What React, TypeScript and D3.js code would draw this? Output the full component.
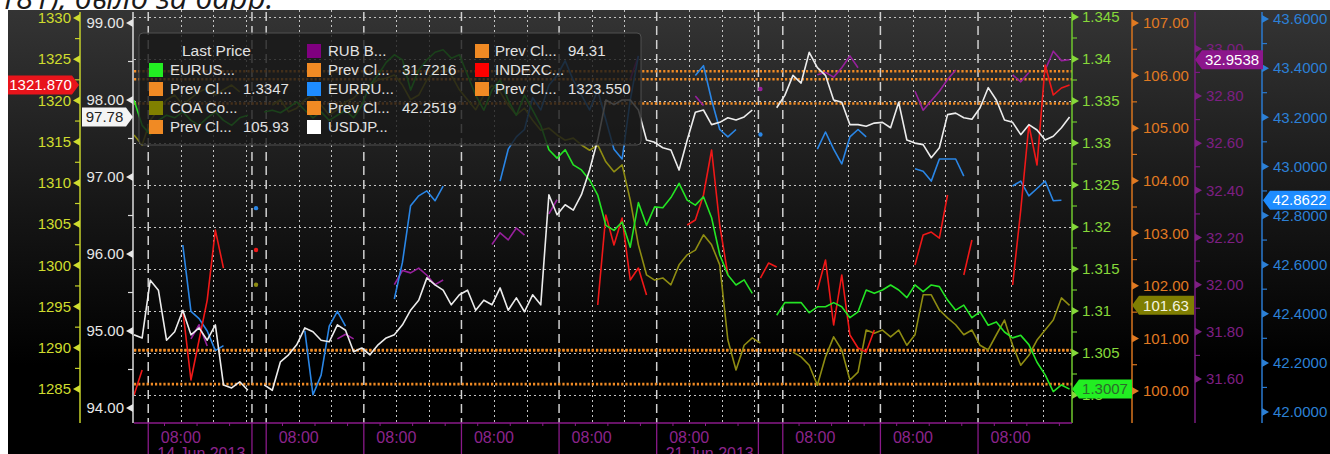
import React from 'react';
import * as d3 from 'd3';

// ---------------- data ----------------
// time axis: compressed trading hours (weekends removed) from the left edge of the plot
const sampleStepHours = 2;
const timeDomainHours = [0, 230.6];
const dayStartHours = [3.5, 32.5, 56.5, 80.5, 104.5, 128.5, 159.5, 183.5, 207.5];
const sessionCloseHours = [29.0, 153.5];
const fridayDayIdx = [0, 5];
const hourLabel = '08:00';
const dateLabels = [
  { day: 0, text: '14 Jun 2013' },
  { day: 5, text: '21 Jun 2013' },
];

const eurusd = [1.3351, 1.3321, 1.3310, 1.3327, 1.3333, 1.3330, 1.3337, 1.3327, 1.3321, 1.3330,
  1.3337, 1.3327, 1.3321, 1.3330, 1.3333, null, 1.3337, 1.3339, 1.3336, 1.3342,
  1.3349, 1.3339, 1.3330, 1.3337, 1.3327, 1.3333, 1.3339, 1.3330, 1.3345, 1.3369,
  1.3381, 1.3396, 1.3405, 1.3399, 1.3363, 1.3387, 1.3399, 1.3408, 1.3411, 1.3401,
  1.3405, 1.3381, 1.3357, 1.3339, 1.3363, 1.3375, 1.3351, 1.3333, 1.3357, 1.3339,
  1.3321, 1.3292, 1.3282, 1.3292, 1.3274, 1.3268, 1.3256, 1.3238, 1.3202, 1.3196,
  1.3206, 1.3176, 1.3229, 1.3202, 1.3224, 1.3223, 1.3235, 1.3252, 1.3232, 1.3226,
  1.3236, 1.3211, 1.3167, 1.3143, 1.3131, 1.3137, 1.3121, null, null, 1.3095,
  1.3110, 1.3110, 1.3110, 1.3098, 1.3105, 1.3105, 1.3110, 1.3105, 1.3092, 1.3099,
  1.3125, 1.3121, 1.3125, 1.3131, 1.3125, 1.3116, 1.3131, 1.3123, 1.3131, 1.3129,
  1.3113, 1.3101, 1.3107, 1.3092, 1.3099, 1.3083, 1.3087, 1.3075, 1.3068, 1.3071,
  1.3060, 1.3039, 1.3024, 1.3004, 1.3012, 1.3007];

const coa = [104.87, 104.68, 105.15, 105.35, 105.54, 105.63, 105.44, 105.57, 105.69, 105.76,
  105.63, 105.73, 105.82, 105.69, null, 102.02, null, 105.44, 105.54, 105.31,
  105.38, 105.54, 105.63, 105.44, 105.25, 105.35, 105.50, 105.57, 105.73, 105.82,
  105.92, 105.95, 106.01, 105.82, 105.54, 105.63, 105.92, 106.07, 106.20, 106.01,
  105.73, 105.54, 105.35, 105.63, 105.82, 105.69, 105.44, 105.25, 105.38, 105.15,
  104.96, 105.00, 104.87, 104.77, 104.81, 104.68, 104.58, 104.68, 104.36, 104.17,
  104.30, 103.63, 102.78, 102.21, 102.11, 102.15, 102.02, 102.40, 102.59, 102.68,
  102.97, 102.78, 102.40, 100.97, 100.40, 100.87, 101.01, 100.91, null, null,
  null, 100.74, 100.65, 100.49, 100.11, 100.65, 101.03, 100.78, 100.21, 100.36,
  101.16, 101.10, 101.16, 101.03, 101.16, 100.87, 101.07, 101.83, 101.83, 101.54,
  101.39, 101.26, 101.07, 101.16, 100.87, 100.78, 101.07, 101.35, 100.87, 100.49,
  100.68, 100.97, 101.16, 101.35, 101.77, 101.63];

const rub = [null, null, null, null, null, null, null, 31.77, 31.83, 31.74,
  null, null, null, null, null, null, null, null, null, null,
  null, null, null, null, null, 31.77, 31.79, 31.77, null, null,
  null, null, 32.00, 32.06, 32.05, 32.07, 32.04, 32.00, 32.02, null,
  null, null, null, null, 32.17, 32.22, 32.19, 32.24, 32.21, null,
  null, 32.30, 32.36, null, null, null, null, null, null, null,
  null, 32.87, 32.97, null, null, null, null, null, null, 32.80,
  32.76, null, null, null, null, null, null, 32.83, null, null,
  null, null, null, null, 32.89, 32.90, 32.88, 32.92, 32.97, 32.92,
  null, null, null, null, null, null, 32.82, 32.74, 32.78, 32.82,
  32.87, 32.91, null, null, null, null, null, null, 32.89, 32.86,
  32.90, null, 32.91, 32.99, 32.95, 32.9538];

const eurrub = [null, null, null, null, null, null, 42.68, 42.41, 42.38, 42.33,
  42.25, 42.27, null, null, null, 42.83, null, null, null, null,
  null, 42.33, 42.07, 42.15, 42.35, 42.41, 42.35, null, null, null,
  null, null, 42.46, 42.61, 42.84, 42.88, 42.90, 42.86, 42.92, null,
  null, null, null, null, null, 42.94, 43.07, 43.12, 43.15, 43.28,
  43.23, 43.33, 43.37, 43.43, 43.35, 43.29, 43.23, 43.31, 43.19, 43.07,
  43.03, 43.27, 43.45, null, null, null, null, null, null, 43.37,
  43.41, 43.27, 43.15, 43.12, 43.15, null, null, 43.13, null, null,
  null, null, null, null, 43.07, 43.14, 43.07, 43.01, 43.12, 43.15,
  43.12, null, null, null, null, null, 42.99, 42.98, 42.94, 43.03,
  43.03, 43.03, 42.96, null, null, null, null, null, 42.92, 42.94,
  42.88, 42.91, 42.94, 42.86, 42.8622, null];

const usdjpy = [94.95, 94.91, 95.66, 95.53, 94.88, 94.99, 95.27, 94.95, 95.04, 94.88,
  95.08, 94.30, 94.26, 94.34, 94.23, null, 94.30, 94.23, 94.60, 94.69,
  94.82, 95.04, 94.99, 94.88, 94.86, 95.08, 95.01, 94.73, 94.78, 94.69,
  94.82, 94.91, 94.95, 95.08, 95.27, 95.40, 95.69, 95.60, 95.53, 95.34,
  95.47, 95.53, 95.27, 95.40, 95.34, 95.56, 95.27, 95.43, 95.25, 95.47,
  95.34, 96.77, 96.51, 96.64, 96.57, 96.77, 97.09, 97.48, 98.00, 97.94,
  98.00, 98.00, 97.87, 97.48, 97.45, 97.38, 97.35, 97.09, 97.48, 97.84,
  97.87, 97.68, 97.71, 97.77, 97.74, 97.78, 97.87, null, null, 97.90,
  98.06, 98.32, 98.22, 98.62, 98.42, 98.32, 98.00, 97.97, 97.68, 97.68,
  97.66, 97.70, 97.71, 97.64, 97.97, 97.48, 97.44, 97.42, 97.25, 97.38,
  97.81, 97.83, 97.77, 97.75, 97.90, 98.16, 98.00, 97.74, 97.71, 97.55,
  97.68, 97.61, 97.48, 97.53, 97.64, 97.78];

const indexc = [1284.27, 1287.30, null, null, null, null, 1294.58, 1286.09, 1290.94, 1295.79,
  1304.28, 1299.67, null, null, null, 1301.86, null, null, null, null,
  null, null, null, null, null, null, null, null, null, null,
  null, null, null, null, null, null, null, null, null, null,
  null, null, null, null, null, null, null, null, null, null,
  null, null, null, null, null, null, null, 1295.19, 1306.10, 1302.46,
  1305.74, 1298.22, 1299.67, 1296.40, null, null, null, null, 1304.89, 1305.50,
  1308.53, 1313.99, 1304.89, 1298.83, null, null, null, 1298.46, 1300.28, 1299.80,
  null, null, null, null, 1297.01, 1300.65, 1292.76, 1298.83, 1291.55, 1289.97,
  1289.49, 1292.15, null, null, null, null, 1300.04, 1303.68, 1304.04, 1303.31,
  1308.53, null, 1298.83, 1303.07, null, null, null, null, 1297.61, 1306.71,
  1317.02, 1312.17, 1324.30, 1320.66, 1321.51, 1321.87];

const seriesNames = ['EURUS...', 'COA Co...', 'RUB B...', 'EURRU...', 'USDJP...', 'INDEXC...'];
const prevCloseValues = [1.3347, 105.93, 31.7216, 42.2519, 94.31, 1323.55];
const prevCloseLabels = ['1.3347', '105.93', '31.7216', '42.2519', '94.31', '1323.550'];
const legendHeader = 'Last Price';
const prevCloseName = 'Prev Cl...';

const indexTicks = [1285, 1290, 1295, 1300, 1305, 1310, 1315, 1320, 1325, 1330];
const jpyTicks = [94, 95, 96, 97, 98, 99];
const eurusdTicks = [1.3, 1.305, 1.31, 1.315, 1.32, 1.325, 1.33, 1.335, 1.34, 1.345];
const coaTicks = [100, 101, 102, 103, 104, 105, 106, 107];
const rubTicks = [31.6, 31.8, 32.0, 32.2, 32.4, 32.6, 32.8, 33.0];
const eurrubTicks = [42.0, 42.2, 42.4, 42.6, 42.8, 43.0, 43.2, 43.4, 43.6];

const topText = '181), было за барр.';

// ---------------- layout ----------------
const W = 1330, H = 454;
const frameX = 8, frameY = 10;
const plotLeft = 134, plotRight = 1072, plotTop = 10, plotBottom = 423;

const yIdx = d3.scaleLinear().domain([1285, 1330]).range([389, 18]);
const yJpy = d3.scaleLinear().domain([94, 99]).range([408, 23]);
const yEur = d3.scaleLinear().domain([1.3, 1.345]).range([395, 17]);
const yCoa = d3.scaleLinear().domain([100, 107]).range([391, 23]);
const yRub = d3.scaleLinear().domain([31.6, 32.8]).range([379, 96]);
const yEurRub = d3.scaleLinear().domain([42, 43.6]).range([412, 19]);

const FONT = "'Liberation Sans', Arial, sans-serif";

const trimFmt = (v: number) => String(+v.toFixed(3));

type Axis = {
  ticks: number[]; scale: any; x: number; side: 'left' | 'right';
  color: string; lineColor: string; fmt: (v: number) => string; textX: number;
};

const axes: Axis[] = [
  { ticks: indexTicks, scale: yIdx, x: 80, side: 'left', color: '#cfdc2e', lineColor: '#c6d22a', fmt: d3.format('d'), textX: 71 },
  { ticks: jpyTicks, scale: yJpy, x: 133, side: 'left', color: '#e6e6e6', lineColor: '#dcdcdc', fmt: d3.format('.2f'), textX: 124 },
  { ticks: eurusdTicks, scale: yEur, x: 1072, side: 'right', color: '#86d83a', lineColor: '#6fc82e', fmt: trimFmt, textX: 1082 },
  { ticks: coaTicks, scale: yCoa, x: 1132, side: 'right', color: '#e07a22', lineColor: '#d8741e', fmt: d3.format('.2f'), textX: 1143 },
  { ticks: rubTicks, scale: yRub, x: 1195, side: 'right', color: '#7d1f82', lineColor: '#7a1a80', fmt: d3.format('.2f'), textX: 1206 },
  { ticks: eurrubTicks, scale: yEurRub, x: 1262, side: 'right', color: '#2c80d6', lineColor: '#2a7ad0', fmt: d3.format('.4f'), textX: 1273 },
];

type Flag = { side: 'left' | 'right'; a: number; b: number; fill: string; text: string };
const seriesStyle = [
  { values: eurusd, scale: yEur, color: '#24e424', fmt: d3.format('.4f'), flag: { side: 'left', a: 1072, b: 1132, fill: '#22ee22', text: '#2b6a2b' } as Flag },
  { values: coa, scale: yCoa, color: '#8e8c12', fmt: d3.format('.2f'), flag: { side: 'left', a: 1132, b: 1194, fill: '#7f7e02', text: '#f4f4e0' } as Flag },
  { values: rub, scale: yRub, color: '#97209c', fmt: d3.format('.4f'), flag: { side: 'left', a: 1195, b: 1263, fill: '#8c168c', text: '#ffffff' } as Flag },
  { values: eurrub, scale: yEurRub, color: '#2a86e6', fmt: d3.format('.4f'), flag: { side: 'left', a: 1263, b: 1330, fill: '#1e8cff', text: '#ffffff' } as Flag },
  { values: usdjpy, scale: yJpy, color: '#ececec', fmt: d3.format('.2f'), flag: { side: 'right', a: 82, b: 133, fill: '#f4f4f4', text: '#222222' } as Flag },
  { values: indexc, scale: yIdx, color: '#f01818', fmt: d3.format('.3f'), flag: { side: 'right', a: 8, b: 79, fill: '#e8141b', text: '#ffffff' } as Flag },
];
const drawOrder = [1, 2, 3, 5, 0, 4];
const legendSwatch = ['#22ee22', '#808000', '#800080', '#1e8cff', '#ffffff', '#ff0000'];
const prevColor = '#f08a24';

const legendBox = { x: 139, y: 33, w: 502, h: 112 };
const legendColSwatchX = [149, 307, 475];
const legendColTextX = [170, 328, 495];
const legendColValueX = [243, 402, 568];
const legendRowY = [51, 70, 89, 108, 127];

function flagPath(f: Flag, yc: number, h = 19, tip = 7) {
  const y0 = yc - h / 2, y1 = yc + h / 2;
  if (f.side === 'left') {
    return `M${f.a},${yc}L${f.a + tip},${y0}L${f.b},${y0}L${f.b},${y1}L${f.a + tip},${y1}Z`;
  }
  return `M${f.a},${y0}L${f.b - tip},${y0}L${f.b},${yc}L${f.b - tip},${y1}L${f.a},${y1}Z`;
}

export default function App() {
  const x = d3.scaleLinear().domain(timeDomainHours).range([plotLeft, plotRight]);
  const tx = (i: number) => x(i * sampleStepHours);

  const longDash: number[] = [...dayStartHours, ...sessionCloseHours];
  const dotted: number[] = [];
  dayStartHours.forEach((d, k) => {
    dotted.push(d + 8, d + 16);
    if (fridayDayIdx.includes(k)) dotted.push(d + 24);
  });
  const minorTimeTicks: number[] = [];
  dayStartHours.forEach((d) => {
    for (let h = 4; h < 24; h += 4) if (h % 8 !== 0) minorTimeTicks.push(d + h);
  });

  type Cell = { kind: 'header' } | { kind: 'series'; s: number } | { kind: 'prev'; s: number };
  const cells: Cell[] = [{ kind: 'header' }];
  seriesNames.forEach((_, s) => { cells.push({ kind: 'series', s }); cells.push({ kind: 'prev', s }); });

  return (
    <div style={{ position: 'fixed', left: 0, top: 0, width: W, height: H, background: '#fff', overflow: 'hidden' }}>
      <svg width={W} height={H} style={{ display: 'block' }} fontFamily={FONT}>
        <defs>
          <linearGradient id="bg" x1="0" y1="0" x2="0" y2="1">
            <stop offset="0" stopColor="#343434" />
            <stop offset="0.45" stopColor="#161616" />
            <stop offset="0.8" stopColor="#000000" />
            <stop offset="1" stopColor="#000000" />
          </linearGradient>
          <clipPath id="plotClip">
            <rect x={plotLeft} y={plotTop} width={plotRight - plotLeft} height={plotBottom - plotTop} />
          </clipPath>
        </defs>

        <text x={-1} y={9} fontSize={31} fontStyle="italic" fontFamily="'Open Sans', sans-serif" fill="#1a1a1a">{topText}</text>

        <rect x={frameX} y={frameY} width={W - frameX} height={H - frameY} fill="url(#bg)" />
        <rect x={frameX} y={plotBottom} width={W - frameX} height={H - plotBottom} fill="#000" />

        <g stroke="#c4c4c4" strokeWidth={1} strokeDasharray="2,3">
          {eurusdTicks.map((t, i) => (
            <line key={i} x1={plotLeft} x2={plotRight} y1={Math.round(yEur(t)) + 0.5} y2={Math.round(yEur(t)) + 0.5} />
          ))}
        </g>
        <g stroke="#c4c4c4" strokeWidth={1} strokeDasharray="2,3">
          {dotted.map((h, i) => (
            <line key={i} x1={Math.round(x(h)) + 0.5} x2={Math.round(x(h)) + 0.5} y1={plotTop} y2={plotBottom} />
          ))}
        </g>
        <g stroke="#d0d0d0" strokeWidth={1.5} strokeDasharray="9,5">
          {longDash.map((h, i) => (
            <line key={i} x1={x(h)} x2={x(h)} y1={plotTop + 2} y2={plotBottom} />
          ))}
        </g>

        <g clipPath="url(#plotClip)" stroke={prevColor} strokeWidth={2.6} strokeDasharray="2.2,2">
          {seriesStyle.map((s, i) => (
            <line key={i} x1={plotLeft} x2={plotRight} y1={s.scale(prevCloseValues[i])} y2={s.scale(prevCloseValues[i])} />
          ))}
        </g>

        <g clipPath="url(#plotClip)">
          {drawOrder.map((si) => {
            const s = seriesStyle[si];
            const line = d3.line<number | null>()
              .defined((d) => d != null)
              .x((_, i) => tx(i))
              .y((d) => s.scale(d as number));
            const dots = s.values
              .map((v, i) => ({ v, i }))
              .filter(({ v, i }) => v != null && (i === 0 || s.values[i - 1] == null) && (i === s.values.length - 1 || s.values[i + 1] == null));
            return (
              <g key={si}>
                <path d={line(s.values as any) || ''} fill="none" stroke={s.color} strokeWidth={1.6} strokeLinejoin="round" />
                {dots.map(({ v, i }) => (
                  <circle key={i} cx={tx(i)} cy={s.scale(v as number)} r={2.2} fill={s.color} />
                ))}
              </g>
            );
          })}
        </g>

        <rect x={legendBox.x} y={legendBox.y} width={legendBox.w} height={legendBox.h} rx={4}
          fill="rgba(24,24,24,0.8)" stroke="#505050" strokeWidth={1} />
        {cells.map((c, k) => {
          const col = Math.floor(k / 5), row = k % 5;
          const y = legendRowY[row];
          if (c.kind === 'header') {
            return <text key={k} x={182} y={y} dy="0.35em" fontSize={15.5} fill="#e2e2e2">{legendHeader}</text>;
          }
          const color = c.kind === 'series' ? legendSwatch[c.s] : prevColor;
          return (
            <g key={k}>
              <rect x={legendColSwatchX[col]} y={y - 7} width={14} height={14} fill={color} />
              <text x={legendColTextX[col]} y={y} dy="0.35em" fontSize={15} fill="#e2e2e2">
                {c.kind === 'series' ? seriesNames[c.s] : prevCloseName}
              </text>
              {c.kind === 'prev' && (
                <text x={legendColValueX[col]} y={y} dy="0.35em" fontSize={15} fill="#e2e2e2">{prevCloseLabels[c.s]}</text>
              )}
            </g>
          );
        })}

        {axes.map((a, ai) => {
          const minors = a.ticks.slice(0, -1).map((t, i) => (t + a.ticks[i + 1]) / 2);
          const dir = a.side === 'left' ? -1 : 1;
          return (
            <g key={ai}>
              <line x1={a.x} x2={a.x} y1={plotTop + 2} y2={plotBottom} stroke={a.lineColor} strokeWidth={1.5} />
              {minors.map((t, i) => (
                <line key={i} x1={a.x} x2={a.x + dir * 5} y1={a.scale(t)} y2={a.scale(t)} stroke={a.lineColor} strokeWidth={1.2} />
              ))}
              {a.ticks.map((t, i) => {
                const y = a.scale(t);
                return (
                  <g key={i}>
                    <path d={`M${a.x},${y - 4}L${a.x},${y + 4}L${a.x + dir * 7},${y}Z`} fill={a.color} />
                    <text x={a.textX} y={y} dy="0.35em" fontSize={15} fill={a.color}
                      textAnchor={a.side === 'left' ? 'end' : 'start'}>{a.fmt(t)}</text>
                  </g>
                );
              })}
            </g>
          );
        })}

        <line x1={plotLeft} x2={plotRight} y1={plotBottom} y2={plotBottom} stroke="#8a1a8a" strokeWidth={1.5} />
        <g stroke="#8a1a8a" strokeWidth={1}>
          {minorTimeTicks.map((h, i) => (
            <line key={i} x1={x(h)} x2={x(h)} y1={plotBottom} y2={plotBottom + 3} />
          ))}
          {[...dayStartHours, ...sessionCloseHours].map((h, i) => (
            <line key={'d' + i} x1={x(h)} x2={x(h)} y1={plotBottom} y2={H} strokeWidth={1.3} />
          ))}
        </g>
        {dayStartHours.map((d, i) => (
          <text key={i} x={x(d + 8)} y={437} dy="0.35em" fontSize={16} fill="#8c248c" textAnchor="middle">{hourLabel}</text>
        ))}
        {dateLabels.map((l, i) => (
          <text key={i} x={x(dayStartHours[l.day]) + 9} y={459} fontSize={16} fill="#8c248c">{l.text}</text>
        ))}

        {seriesStyle.map((s, i) => {
          let last = s.values.length - 1;
          while (last >= 0 && s.values[last] == null) last--;
          const v = s.values[last] as number;
          const yc = s.scale(v);
          const f = s.flag;
          const cx = f.side === 'left' ? (f.a + 6 + f.b) / 2 : (f.a + f.b - 6) / 2;
          return (
            <g key={i}>
              <path d={flagPath(f, yc)} fill={f.fill} />
              <text x={cx} y={yc} dy="0.35em" fontSize={15} fill={f.text} textAnchor="middle">{s.fmt(v)}</text>
            </g>
          );
        })}
      </svg>
    </div>
  );
}
